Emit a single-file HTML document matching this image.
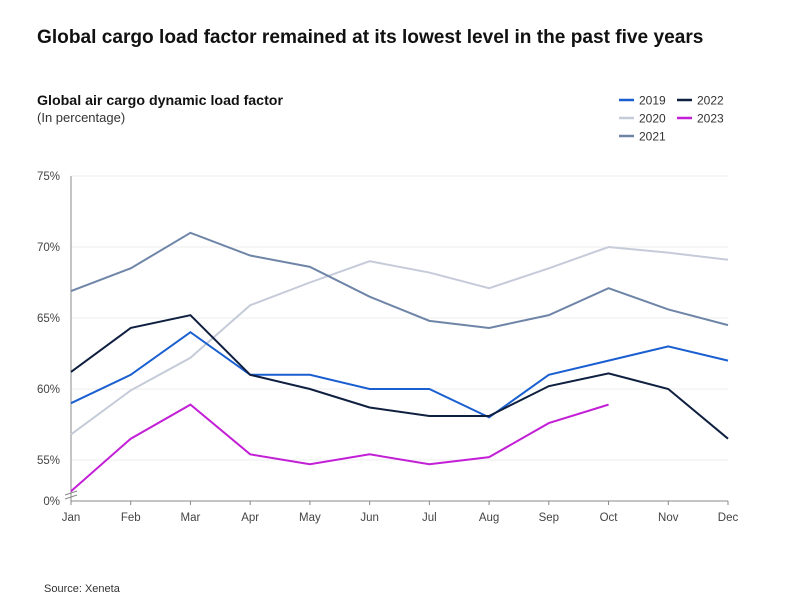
<!DOCTYPE html>
<html><head><meta charset="utf-8"><style>
html,body{margin:0;padding:0;background:#fff;width:800px;height:600px;overflow:hidden}
svg{display:block;font-family:"Liberation Sans",sans-serif}
</style></head><body>
<svg id="chart" width="800" height="600" viewBox="0 0 800 600">
<text x="37" y="43" font-size="19.1" font-weight="bold" fill="#111">Global cargo load factor remained at its lowest level in the past five years</text>
<text x="37" y="105" font-size="14.2" font-weight="bold" fill="#111">Global air cargo dynamic load factor</text>
<text x="37" y="122" font-size="13" fill="#333">(In percentage)</text>
<text x="44" y="592" font-size="11" fill="#333">Source: Xeneta</text>
<g id="grid"></g><g id="axes"></g><g id="lines"></g><g id="legend"></g>
</svg>
<script>
const months=["Jan","Feb","Mar","Apr","May","Jun","Jul","Aug","Sep","Oct","Nov","Dec"];
const yTicks=[55,60,65,70,75];
const s2019=[59,61,64,61,61,60,60,58,61,62,63,62];
const s2020=[56.8,59.9,62.2,65.9,67.5,69,68.2,67.1,68.5,70,69.6,69.1];
const s2021=[66.9,68.5,71,69.4,68.6,66.5,64.8,64.3,65.2,67.1,65.6,64.5];
const s2022=[61.2,64.3,65.2,61,60,58.7,58.1,58.1,60.2,61.1,60,56.5];
const s2023=[52.8,56.5,58.9,55.4,54.7,55.4,54.7,55.2,57.6,58.9];
const seriesNames=["2019","2020","2021","2022","2023"];
const NS="http://www.w3.org/2000/svg";
const x0=71,x1=728,yBase=501;
function xs(i){return x0+i*(x1-x0)/(months.length-1);}
function ys(v){return 460-(v-55)*14.2;}
function mk(tag,attrs,parent,txt){const e=document.createElementNS(NS,tag);for(const k in attrs)e.setAttribute(k,attrs[k]);if(txt!=null)e.textContent=txt;parent.appendChild(e);return e;}
const grid=document.getElementById('grid'),axes=document.getElementById('axes'),lines=document.getElementById('lines'),legend=document.getElementById('legend');
yTicks.forEach(t=>{
 const g=mk('line',{x1:x0,x2:x1,y1:ys(t),y2:ys(t),stroke:'#eeeeee','stroke-width':1},grid);
 
 
 const l=mk('text',{x:60,y:ys(t)+4,'font-size':11.5,fill:'#444','text-anchor':'end'},axes,t+'%');
 
 
});
const z=mk('text',{x:60,y:yBase+4,'font-size':11.5,fill:'#444','text-anchor':'end'},axes,'0%');


const ya=mk('line',{x1:x0,x2:x0,y1:176,y2:yBase,stroke:'#888','stroke-width':1},axes);


const xa=mk('line',{x1:x0,x2:x1,y1:yBase,y2:yBase,stroke:'#888','stroke-width':1},axes);


const br=mk('path',{d:'M65 495 L77 491 M65 499 L77 495',stroke:'#888',fill:'none'},axes);


months.forEach((m,i)=>{
 mk('line',{x1:xs(i),x2:xs(i),y1:yBase,y2:yBase+4,stroke:'#888'},axes);
 const t=mk('text',{x:xs(i),y:521,'font-size':11.5,fill:'#444','text-anchor':'middle'},axes,m);
 
 
});
const data=[s2019,s2020,s2021,s2022,s2023];
const colors=["#1a5fd0","#c5cbd9","#6f85a8","#0f1f40","#c21fd6"];
const order=[1,2,0,3,4];
order.forEach(k=>{
 const pts=data[k].map((v,i)=>xs(i)+','+ys(v)).join(' ');
 const p=mk('polyline',{points:pts,fill:'none',stroke:colors[k],'stroke-width':2,'stroke-linejoin':'miter'},lines);
 
 
});
const lp=[[619,100],[619,118],[619,136],[677,100],[677,118]];
seriesNames.forEach((n,k)=>{
 const g=mk('g',{},legend);
 
 
 mk('line',{x1:lp[k][0],x2:lp[k][0]+15,y1:lp[k][1],y2:lp[k][1],stroke:colors[k],'stroke-width':2.5},g);
 mk('text',{x:lp[k][0]+20,y:lp[k][1]+4.5,'font-size':12,fill:'#333'},g,n);
});
</script>
</body></html>
